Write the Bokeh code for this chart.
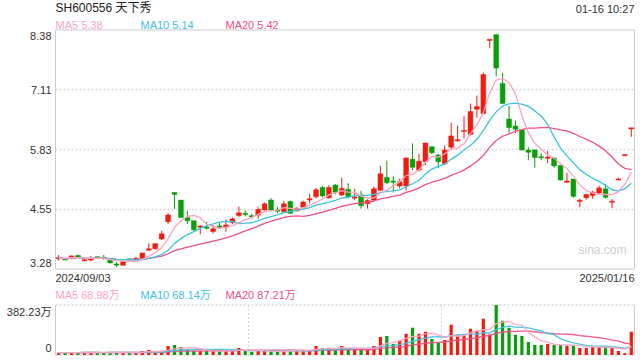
from bokeh.plotting import figure
from bokeh.models import Range1d, Label
from bokeh.layouts import column
from bokeh.embed import file_html
from bokeh.resources import INLINE
from bokeh.core.properties import value

# ---------------- data ----------------
title_text = "SH600556 天下秀"
time_text = "01-16 10:27"
date_labels = ["2024/09/03", "2025/01/16"]
price_ticks = [3.28, 4.55, 5.83, 7.11, 8.38]
price_tick_labels = ["3.28", "4.55", "5.83", "7.11", "8.38"]
vol_ticks = [0, 382.23]
vol_tick_labels = ["0", "382.23万"]
ma_legend = ["MA5 5.38", "MA10 5.14", "MA20 5.42"]
vol_ma_legend = ["MA5 68.98万", "MA10 68.14万", "MA20 87.21万"]
watermark = "sina.com"
vol_vlines = [29.5, 59.5]

opens = [3.50, 3.49, 3.50, 3.57, 3.46, 3.48, 3.54, 3.52, 3.48, 3.38,
         3.36, 3.49, 3.49, 3.51, 3.68, 3.71, 3.92, 4.29, 4.91, 4.75,
         4.38, 4.31, 4.18, 4.17, 4.08, 4.20, 4.17, 4.27, 4.42, 4.46,
         4.41, 4.43, 4.54, 4.75, 4.53, 4.50, 4.72, 4.52, 4.59, 4.76,
         4.82, 5.02, 4.80, 5.07, 4.86, 4.98, 4.80, 4.86, 4.67, 4.75,
         4.96, 5.23, 5.15, 5.05, 5.05, 5.62, 5.39, 5.57, 5.89, 5.71,
         5.53, 5.88, 6.02, 6.22, 6.15, 6.69, 6.60, 8.17, 8.28, 7.24,
         6.48, 6.33, 6.25, 5.82, 5.82, 5.67, 5.65, 5.65, 5.49, 5.14,
         5.20, 4.73, 4.80, 4.85, 4.90, 4.99, 4.71, 5.19, 5.71, 6.28]
highs = [3.58, 3.50, 3.57, 3.59, 3.50, 3.56, 3.55, 3.58, 3.49, 3.43,
         3.45, 3.50, 3.54, 3.63, 3.83, 3.83, 4.09, 4.47, 4.92, 4.75,
         4.52, 4.31, 4.22, 4.29, 4.22, 4.27, 4.34, 4.38, 4.61, 4.53,
         4.46, 4.60, 4.70, 4.79, 4.61, 4.73, 4.74, 4.59, 4.74, 4.89,
         5.01, 5.05, 5.07, 5.09, 5.23, 5.11, 4.99, 4.95, 4.77, 5.04,
         5.48, 5.59, 5.26, 5.21, 5.66, 5.96, 5.74, 5.97, 5.89, 5.74,
         5.92, 6.40, 6.34, 6.54, 6.81, 6.98, 7.47, 8.17, 8.30, 7.47,
         6.76, 6.45, 6.26, 5.88, 5.83, 5.75, 5.80, 5.66, 5.49, 5.33,
         5.20, 4.78, 4.88, 4.95, 5.06, 5.09, 4.77, 5.23, 5.71, 6.28]
lows = [3.46, 3.47, 3.49, 3.52, 3.45, 3.44, 3.51, 3.48, 3.40, 3.32,
        3.35, 3.47, 3.47, 3.50, 3.68, 3.70, 3.90, 4.24, 4.56, 4.37,
        4.24, 4.07, 4.02, 4.12, 4.04, 4.15, 4.08, 4.24, 4.39, 4.40,
        4.35, 4.35, 4.53, 4.52, 4.47, 4.49, 4.45, 4.51, 4.57, 4.68,
        4.79, 4.81, 4.78, 4.87, 4.84, 4.79, 4.75, 4.57, 4.57, 4.74,
        4.94, 5.09, 4.91, 5.00, 4.95, 5.39, 5.36, 5.50, 5.73, 5.43,
        5.50, 5.82, 6.00, 6.07, 6.13, 6.51, 6.58, 7.99, 7.39, 6.81,
        6.18, 6.18, 5.81, 5.60, 5.44, 5.60, 5.54, 5.44, 5.17, 5.11,
        4.80, 4.60, 4.76, 4.78, 4.86, 4.78, 4.58, 5.18, 5.71, 6.10]
closes = [3.52, 3.48, 3.56, 3.53, 3.47, 3.49, 3.52, 3.51, 3.41, 3.37,
          3.44, 3.48, 3.50, 3.62, 3.71, 3.82, 4.03, 4.43, 4.87, 4.38,
          4.31, 4.12, 4.19, 4.16, 4.14, 4.16, 4.22, 4.35, 4.48, 4.45,
          4.40, 4.55, 4.67, 4.54, 4.52, 4.67, 4.47, 4.58, 4.71, 4.77,
          4.97, 4.84, 5.02, 4.92, 5.00, 4.82, 4.81, 4.63, 4.74, 4.99,
          5.31, 5.12, 5.14, 5.14, 5.65, 5.45, 5.58, 5.97, 5.76, 5.57,
          5.82, 6.12, 6.03, 6.23, 6.64, 6.75, 7.43, 8.17, 7.57, 6.81,
          6.30, 6.26, 5.82, 5.77, 5.66, 5.66, 5.66, 5.48, 5.18, 5.15,
          4.83, 4.74, 4.87, 4.92, 5.01, 4.81, 4.72, 5.19, 5.71, 6.28]
volumes = [17, 19, 19, 19, 19, 19, 19, 17, 19, 19,
           19, 19, 19, 30, 38, 25, 25, 69, 76, 61,
           43, 30, 30, 32, 30, 30, 32, 32, 53, 30,
           22, 30, 32, 32, 22, 35, 32, 35, 40, 38,
           69, 53, 53, 38, 69, 48, 50, 48, 38, 69,
           138, 146, 84, 107, 162, 208, 162, 177, 123, 94,
           115, 231, 149, 154, 200, 185, 278, 156, 382.23, 262,
           208, 154, 146, 100, 76, 76, 84, 76, 76, 71,
           71, 53, 53, 61, 61, 61, 53, 30, 14, 177]

# ---------------- style / layout (picture pixel coordinates) ----------------
RED = "#f01c10"
GREEN = "#0a9e0a"
C_MA5 = "#ffa3c0"
C_MA10 = "#3ec2e2"
C_MA20 = "#ee4f84"
FONT = "Liberation Sans, Noto Sans CJK SC"
TXT = "#333333"
BORDER = "#cccccc"
GRIDC = "#d6d6d6"

OFF = 0
PAGE_R = 640
P1_TOP, P1_BOT = OFF, 285    # canvas of the price figure
P2_TOP, P2_BOT = 285, 360    # canvas of the volume figure
FL, FR = 55, 634             # plot area left / right
F1T, F1B = 29.5, 268.5       # price plot area top / bottom
F2T, F2B = 304.5, 354.5      # volume plot area top / bottom

n = len(closes)
idx = list(range(n))
x0, x1 = -0.5, n - 0.5
pmin, pmax = price_ticks[0], price_ticks[-1]
vmin, vmax = vol_ticks[0], vol_ticks[-1]


def ma(arr, k):
    out = []
    for i in range(len(arr)):
        w = arr[max(0, i - k + 1):i + 1]
        out.append(sum(w) / len(w))
    return out


def dx(px):
    return x0 + (px - FL) / (FR - FL) * (x1 - x0)


def dy1(py):
    return pmin + (F1B - py) / (F1B - F1T) * (pmax - pmin)


def dy2(py):
    return vmin + (F2B - py) / (F2B - F2T) * (vmax - vmin)


def clamp_label(v, lo, hi, pad):
    return min(max(v, lo + pad), hi - pad)


colors = [RED if c >= o else GREEN for o, c in zip(opens, closes)]
min_h = (pmax - pmin) / (F1B - F1T) * 1.2
body_top, body_bot = [], []
for o, c in zip(opens, closes):
    t, b = max(o, c), min(o, c)
    if t - b < min_h:
        mid = (t + b) / 2
        t, b = mid + min_h / 2, mid - min_h / 2
    body_top.append(t)
    body_bot.append(b)


def base_fig(h, yr):
    p = figure(width=PAGE_R - OFF, height=h, x_range=Range1d(dx(OFF), dx(PAGE_R)), y_range=yr,
               output_backend="svg", toolbar_location=None, x_axis_location=None,
               y_axis_location=None, min_border=0)
    p.min_border_left = p.min_border_right = p.min_border_top = p.min_border_bottom = 0
    p.outline_line_color = None
    p.background_fill_color = "white"
    p.border_fill_color = "white"
    p.grid.visible = False
    return p


def label(p, x, y, text, align, color=TXT, size="11px"):
    p.add_layout(Label(x=x, y=y, text=text, text_align=align, text_baseline="middle",
                       text_font=FONT, text_font_size=size, text_color=color))


# ---------------- price panel ----------------
p1 = base_fig(P1_BOT - P1_TOP, Range1d(dy1(P1_BOT), dy1(P1_TOP)))

inner = price_ticks[1:-1]
p1.segment(x0=[x0] * len(inner), x1=[x1] * len(inner), y0=inner, y1=inner,
           line_color=GRIDC, line_dash="2 2", line_width=1.5)
p1.quad(left=[x0], right=[x1], bottom=[pmin], top=[pmax], fill_color=None,
        line_color=BORDER, line_width=1)

label(p1, dx(602), dy1(249), watermark, "center", color="#cfcfcf", size="12px")

p1.segment(x0=idx, y0=lows, x1=idx, y1=highs, line_color=colors, line_width=1)
p1.vbar(x=idx, width=0.75, top=body_top, bottom=body_bot, fill_color=colors,
        line_color=colors, line_width=0.5)

p1.line(idx, ma(closes, 20), line_color=C_MA20, line_width=1.3)
p1.line(idx, ma(closes, 10), line_color=C_MA10, line_width=1.3)
p1.line(idx, ma(closes, 5), line_color=C_MA5, line_width=1.3)

pad1 = dy1(F1T) - dy1(F1T + 6)
p1.text(x=[dx(51)] * len(price_ticks),
        y=[clamp_label(t, pmin, pmax, pad1) for t in price_ticks],
        text=price_tick_labels, text_align="right", text_baseline="middle",
        text_font=value(FONT), text_font_size="11px", text_color=TXT)

label(p1, dx(55), dy1(7.5), title_text, "left", color="#222222", size="12px")
label(p1, dx(634), dy1(8), time_text, "right")
for txt, px, col in zip(ma_legend, [55, 140, 225], [C_MA5, C_MA10, C_MA20]):
    label(p1, dx(px), dy1(24), txt, "left", color=col)
label(p1, dx(55), dy1(277), date_labels[0], "left")
label(p1, dx(634), dy1(277), date_labels[1], "right")

# ---------------- volume panel ----------------
p2 = base_fig(P2_BOT - P2_TOP, Range1d(dy2(P2_BOT), dy2(P2_TOP)))

p2.segment(x0=[x0] * 2, x1=[x1] * 2, y0=vol_ticks, y1=vol_ticks,
           line_color=GRIDC, line_dash="2 2", line_width=1.5)
p2.segment(x0=vol_vlines, x1=vol_vlines, y0=[vmin] * 2, y1=[vmax] * 2,
           line_color=GRIDC, line_dash="2 2", line_width=1)
p2.segment(x0=[x0, x1], x1=[x0, x1], y0=[vmin] * 2, y1=[vmax] * 2,
           line_color=BORDER, line_width=1)

p2.vbar(x=idx, width=0.5, top=volumes, bottom=0, fill_color=colors, line_color=None)
p2.line(idx, ma(volumes, 20), line_color=C_MA20, line_width=1.4, line_alpha=0.9)
p2.line(idx, ma(volumes, 10), line_color=C_MA10, line_width=1.4, line_alpha=0.9)
p2.line(idx, ma(volumes, 5), line_color=C_MA5, line_width=1.4, line_alpha=0.9)

pad2 = dy2(F2T) - dy2(F2T + 7)
p2.text(x=[dx(51)] * len(vol_ticks),
        y=[clamp_label(t, vmin, vmax, pad2) for t in vol_ticks],
        text=vol_tick_labels, text_align="right", text_baseline="middle",
        text_font=value(FONT), text_font_size="11px", text_color=TXT)
for txt, px, col in zip(vol_ma_legend, [55, 140, 225], [C_MA5, C_MA10, C_MA20]):
    label(p2, dx(px), dy2(294), txt, "left", color=col)

layout = column(p1, p2, spacing=0)
open("out.html", "w").write(file_html(layout, INLINE))
